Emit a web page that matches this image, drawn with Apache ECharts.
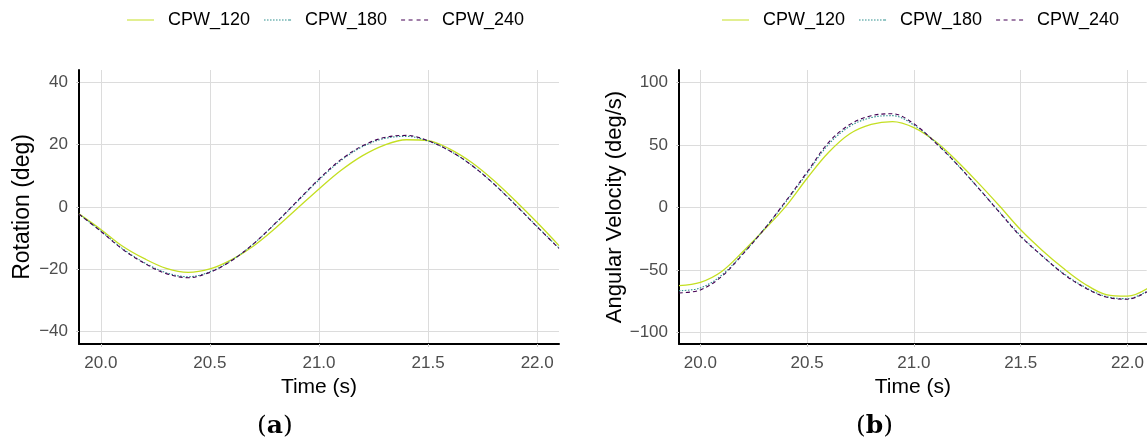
<!DOCTYPE html>
<html>
<head>
<meta charset="utf-8">
<script src="https://cdn.jsdelivr.net/npm/echarts@6/dist/echarts.min.js"></script>
<style>
  html, body { margin: 0; padding: 0; background: #ffffff; }
  #chart { width: 1147px; height: 442px; }
</style>
</head>
<body>
<div id="chart"></div>
<script>
// Sample times (s)
const time = [19.9, 20.0, 20.1, 20.2, 20.3, 20.4, 20.5, 20.6, 20.7, 20.8, 20.9, 21.0,
              21.1, 21.2, 21.3, 21.4, 21.5, 21.6, 21.7, 21.8, 21.9, 22.0, 22.1];

// Rotation (deg)
const rotCPW120 = [-2.2, -7.2, -12.6, -16.6, -19.7, -21.0, -19.9, -16.9, -12.5, -6.8, -0.5, 5.8,
                   11.7, 16.5, 19.9, 21.6, 21.3, 18.6, 14.3, 8.6, 2.0, -5.0, -12.4];
const rotCPW180 = [-2.3, -7.7, -13.4, -17.9, -21.1, -22.4, -20.8, -17.1, -11.8, -5.3, 1.7, 8.7,
                   14.9, 19.4, 22.0, 22.7, 21.2, 18.0, 13.4, 7.5, 0.8, -6.3, -13.2];
const rotCPW240 = [-2.3, -7.8, -13.6, -18.1, -21.4, -22.7, -21.0, -17.2, -11.8, -5.2, 1.9, 9.0,
                   15.2, 19.7, 22.3, 23.0, 21.3, 18.0, 13.4, 7.5, 0.7, -6.4, -13.3];

// Angular velocity (deg/s)
const velCPW120 = [-62.3, -59.7, -51.0, -35.0, -17.5, 1.0, 23.5, 44.0, 59.0, 66.5, 68.8, 64.0,
                   53.0, 37.5, 20.0, 1.5, -17.7, -34.0, -48.5, -61.0, -69.5, -70.8, -64.0];
const velCPW180 = [-66.4, -64.2, -54.0, -36.5, -17.0, 4.5, 27.5, 50.5, 65.0, 72.0, 73.5, 66.0,
                   52.5, 35.0, 16.0, -3.3, -22.5, -38.5, -52.5, -63.5, -71.0, -72.8, -66.0];
const velCPW240 = [-68.2, -65.8, -55.0, -37.0, -17.0, 5.2, 28.5, 52.0, 66.5, 73.5, 75.0, 67.0,
                   52.0, 35.0, 16.0, -3.7, -23.1, -38.5, -53.0, -64.0, -71.5, -73.2, -66.5];

const seriesNames = ['CPW_120', 'CPW_180', 'CPW_240'];
const seriesColors = ['#c4df22', '#2a8e8c', '#440154'];
const lineTypes = ['solid', [1.5, 1.5], [4, 3]];

// Legend keys drawn as thin solid / dotted / dashed strokes (27 x 1 units)
const legendIcons = [
  'path://M0,0H27V1H0Z',
  'path://M0,0h1.5v1h-1.5zM3,0h1.5v1h-1.5zM6,0h1.5v1h-1.5zM9,0h1.5v1h-1.5zM12,0h1.5v1h-1.5zM15,0h1.5v1h-1.5zM18,0h1.5v1h-1.5zM21,0h1.5v1h-1.5zM24,0h1.5v1h-1.5zM25.5,0h1.5v1h-1.5z',
  'path://M0,0h4v1h-4zM7.5,0h4v1h-4zM15.5,0h4v1h-4zM23,0h4v1h-4z'
];

const FONT = 'Liberation Sans';
const pair = (arr) => time.map((t, i) => [t, arr[i]]);
const minus = (s) => String(s).replace('-', '\u2212');

function makeSeries(name, k, values, axisIndex) {
  return {
    name: name,
    type: 'line',
    xAxisIndex: axisIndex,
    yAxisIndex: axisIndex,
    data: pair(values),
    smooth: 0.35,
    showSymbol: false,
    symbol: 'none',
    clip: true,
    color: seriesColors[k],
    lineStyle: { color: seriesColors[k], width: k === 0 ? 1.3 : 1.1, type: lineTypes[k] },
    emphasis: { disabled: true }
  };
}

function xAxisDef(gridIndex, max) {
  return {
    type: 'value', gridIndex: gridIndex, min: 19.9, max: max,
    name: 'Time (s)', nameLocation: 'middle', nameGap: 33,
    nameTextStyle: { fontFamily: FONT, fontSize: 21, color: '#000' },
    axisLine: { show: true, onZero: false, lineStyle: { color: '#000', width: 2 } },
    axisTick: { show: true, length: 3, lineStyle: { color: '#cccccc', width: 1 } },
    axisLabel: { fontFamily: FONT, fontSize: 17, color: '#4d4d4d', margin: 11,
                 showMinLabel: false, showMaxLabel: false,
                 formatter: (v) => v.toFixed(1) },
    splitLine: { show: true, showMinLine: false, showMaxLine: false,
                 lineStyle: { color: '#dcdcdc', width: 1 } }
  };
}

function yAxisDef(gridIndex, name, min, max, gap, nameSize) {
  return {
    type: 'value', gridIndex: gridIndex, min: min, max: max,
    name: name, nameLocation: 'middle', nameGap: gap,
    nameTextStyle: { fontFamily: FONT, fontSize: nameSize, color: '#000' },
    axisLine: { show: true, onZero: false, lineStyle: { color: '#000', width: 2 } },
    axisTick: { show: true, length: 3, lineStyle: { color: '#cccccc', width: 1 } },
    axisLabel: { fontFamily: FONT, fontSize: 17, color: '#4d4d4d', margin: 11,
                 showMinLabel: false, showMaxLabel: false,
                 formatter: (v) => minus(v) },
    splitLine: { show: true, showMinLine: false, showMaxLine: false,
                 lineStyle: { color: '#dcdcdc', width: 1 } }
  };
}

function legendDef(left) {
  return {
    left: left, top: 11, padding: 0,
    itemWidth: 27, itemHeight: 1.3, itemGap: 14,
    textStyle: { fontFamily: FONT, fontSize: 18, color: '#000', padding: [0, 0, 0, 9] },
    data: seriesNames.map((n, k) => ({ name: n, icon: legendIcons[k],
                                       itemStyle: { color: seriesColors[k] } })),
    selectedMode: false
  };
}

function panelLabel(x, letter) {
  return {
    type: 'text', left: x, top: 414,
    style: {
      text: '{p|(}{b|' + letter + '}{p|)}',
      rich: {
        p: { fontFamily: 'DejaVu Serif', fontSize: 25, fill: '#000' },
        b: { fontFamily: 'DejaVu Serif', fontSize: 25, fontWeight: 'bold', fill: '#000' }
      }
    }
  };
}

const chart = echarts.init(document.getElementById('chart'), null, { renderer: 'canvas' });
chart.setOption({
  backgroundColor: '#ffffff',
  animation: false,
  legend: [legendDef(127), legendDef(722)],
  grid: [
    { left: 79, right: 588, top: 70, bottom: 98, containLabel: false },
    { left: 679, right: 0, top: 70, bottom: 98, containLabel: false }
  ],
  xAxis: [xAxisDef(0, 22.1), xAxisDef(1, 22.09)],
  yAxis: [
    yAxisDef(0, 'Rotation (deg)', -44, 44, 45, 23),
    yAxisDef(1, 'Angular Velocity (deg/s)', -109, 110, 52, 22)
  ],
  series: [
    makeSeries('CPW_120', 0, rotCPW120, 0),
    makeSeries('CPW_180', 1, rotCPW180, 0),
    makeSeries('CPW_240', 2, rotCPW240, 0),
    makeSeries('CPW_120', 0, velCPW120, 1),
    makeSeries('CPW_180', 1, velCPW180, 1),
    makeSeries('CPW_240', 2, velCPW240, 1)
  ],
  graphic: [panelLabel(257, 'a'), panelLabel(856, 'b')]
});
</script>
</body>
</html>
